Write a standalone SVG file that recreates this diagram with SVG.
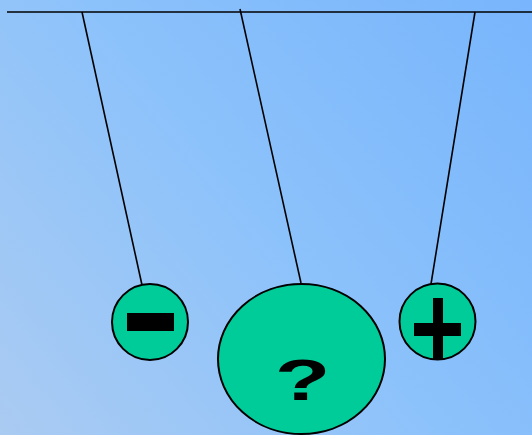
<svg xmlns="http://www.w3.org/2000/svg" width="532" height="435" viewBox="0 0 532 435">
<defs>
<linearGradient id="bg" x1="0" y1="435" x2="532" y2="0" gradientUnits="userSpaceOnUse">
<stop offset="0" stop-color="#aacbf2"/>
<stop offset="0.5" stop-color="#8cc2fb"/>
<stop offset="1" stop-color="#78b5fc"/>
</linearGradient>
<style>
.ball{fill:#00cc99;stroke:#000;stroke-width:2}
.str{stroke:#000;stroke-width:1.6;fill:none}
.sign{fill:#000}
.q{font-family:"Liberation Sans",Arial,sans-serif;font-weight:bold;font-size:57px;fill:#000}
</style>
</defs>
<rect width="532" height="435" fill="url(#bg)"/>
<g id="connectors">
<line class="str" x1="7" y1="12" x2="532" y2="12" stroke-width="2"/>
<line class="str" x1="82" y1="12" x2="142" y2="285"/>
<line class="str" x1="240" y1="9" x2="301" y2="283"/>
<line class="str" x1="475" y1="12" x2="431" y2="284"/>
</g>
<g id="minus">
<circle class="ball" cx="150" cy="322" r="38"/>
<rect class="sign" x="127" y="313" width="47" height="18"/>
</g>
<g id="question">
<ellipse class="ball" cx="301.5" cy="359" rx="83.5" ry="75"/>
<text class="q" x="0" y="0" text-anchor="middle" transform="translate(302.5 400) scale(1.6 1)">?</text>
</g>
<g id="plus">
<circle class="ball" cx="437.5" cy="321.5" r="38"/>
<rect class="sign" x="433" y="298" width="10" height="61"/>
<rect class="sign" x="414" y="323" width="47" height="13"/>
</g>
</svg>
